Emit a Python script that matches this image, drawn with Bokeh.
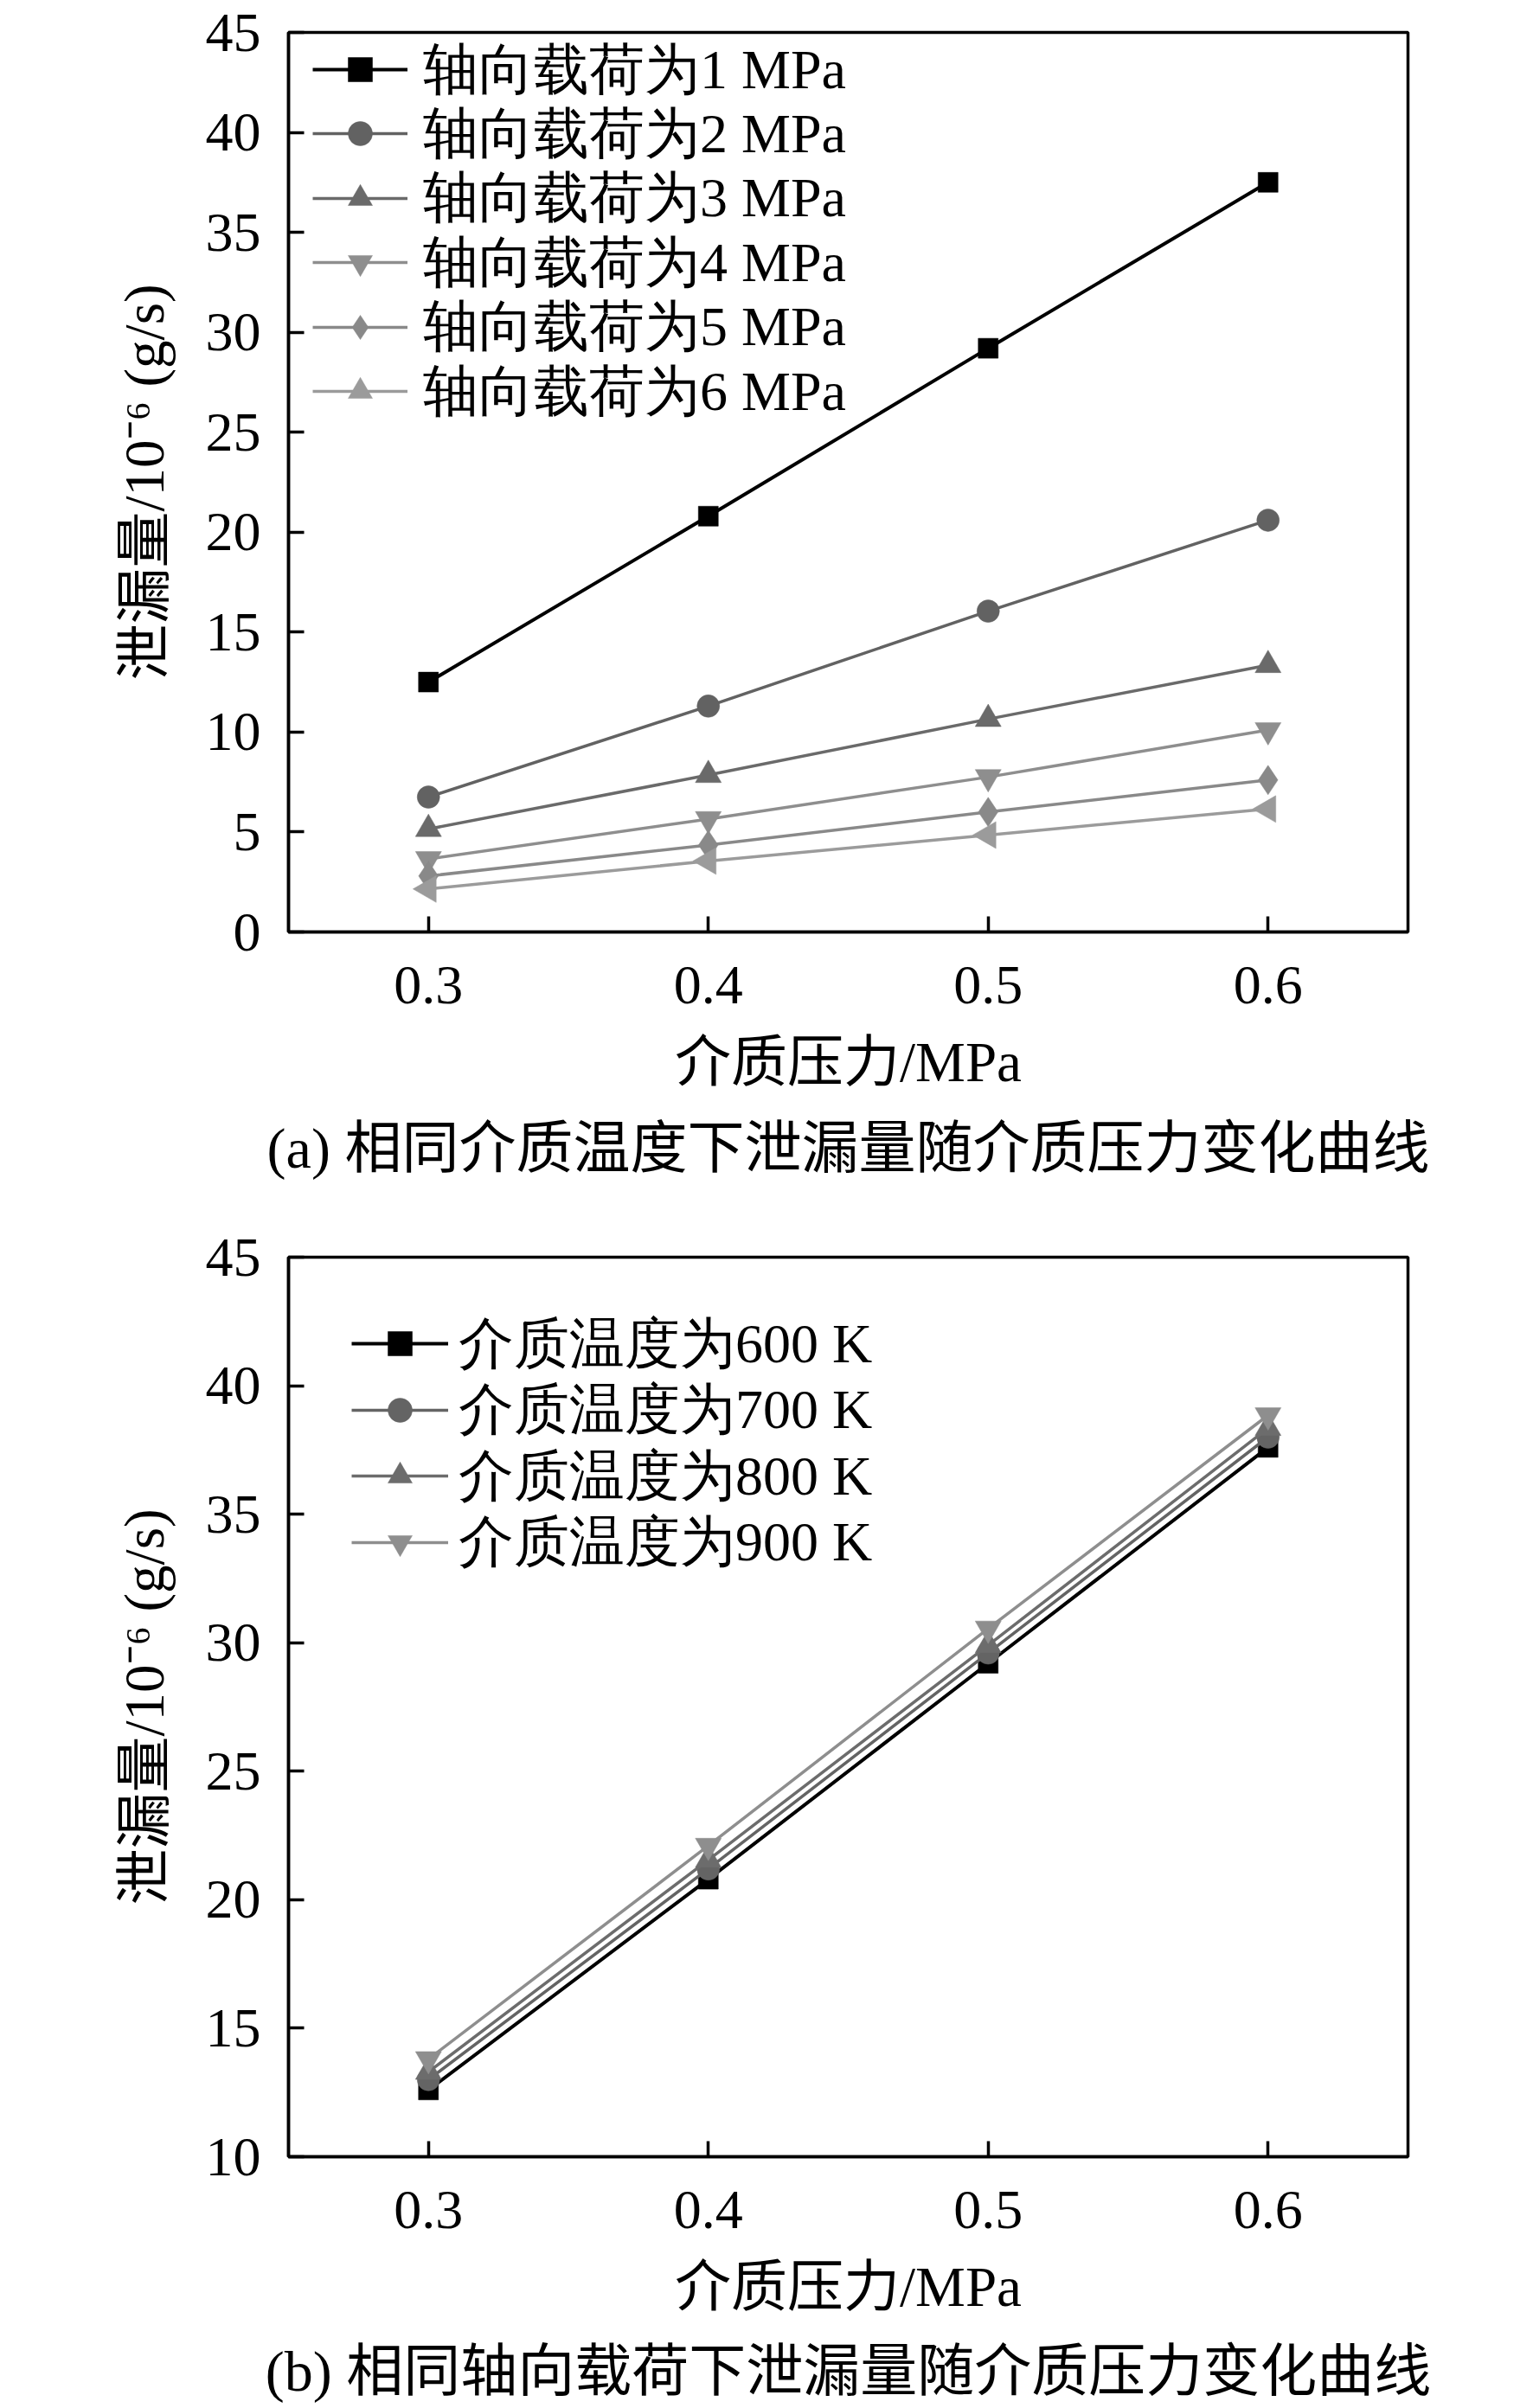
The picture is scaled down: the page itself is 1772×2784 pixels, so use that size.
import math
from bokeh.plotting import figure
from bokeh.models import Range1d, FixedTicker, Legend, LegendItem, Title
from bokeh.layouts import column
from bokeh.embed import file_html
from bokeh.resources import INLINE

# ---------------- data ----------------
pressure = [0.3, 0.4, 0.5, 0.6]

load_labels = ["轴向载荷为1 MPa", "轴向载荷为2 MPa", "轴向载荷为3 MPa",
               "轴向载荷为4 MPa", "轴向载荷为5 MPa", "轴向载荷为6 MPa"]
load_1 = [12.5, 20.8, 29.2, 37.5]
load_2 = [6.75, 11.3, 16.05, 20.6]
load_3 = [5.15, 7.85, 10.65, 13.35]
load_4 = [3.65, 5.65, 7.75, 10.1]
load_5 = [2.8, 4.35, 6.0, 7.6]
load_6 = [2.15, 3.55, 4.85, 6.15]

temp_labels = ["介质温度为600 K", "介质温度为700 K", "介质温度为800 K", "介质温度为900 K"]
temp_600 = [12.6, 20.8, 29.2, 37.6]
temp_700 = [13.0, 21.2, 29.6, 38.0]
temp_800 = [13.3, 21.55, 29.9, 38.35]
temp_900 = [13.8, 22.1, 30.55, 38.85]

x_ticks = [0.3, 0.4, 0.5, 0.6]
y_ticks_a = [0, 5, 10, 15, 20, 25, 30, 35, 40, 45]
y_ticks_b = [10, 15, 20, 25, 30, 35, 40, 45]

x_title = "介质压力/MPa"
y_title = "泄漏量/10⁻⁶ (g/s)"
caption_a = "(a) 相同介质温度下泄漏量随介质压力变化曲线"
caption_b = "(b) 相同轴向载荷下泄漏量随介质压力变化曲线"

FONT = "Liberation Serif, Noto Sans CJK SC"
SERIF = "Liberation Serif"


def make_fig(y_start, y_end, y_ticks, border_top, frame_h, border_bottom, caption, cap_standoff):
    p = figure(output_backend="svg", toolbar_location=None,
               frame_width=1294, frame_height=frame_h,
               min_border_left=333, min_border_right=145,
               min_border_top=border_top, min_border_bottom=border_bottom,
               x_range=Range1d(0.25, 0.65), y_range=Range1d(y_start, y_end))
    p.background_fill_color = "white"
    p.border_fill_color = "white"
    p.grid.visible = False
    p.outline_line_color = "black"
    p.outline_line_width = 3.5
    p.outline_line_alpha = 1.0
    for ax in (p.xaxis[0], p.yaxis[0]):
        ax.axis_line_width = 3.5
        ax.axis_line_color = "black"
        ax.major_tick_line_width = 3.5
        ax.major_tick_line_color = "black"
        ax.major_tick_in = 18
        ax.major_tick_out = 0
        ax.minor_tick_line_color = None
        ax.major_label_text_font_size = "64px"
        ax.major_label_text_color = "black"
        ax.axis_label_text_font = FONT
        ax.axis_label_text_font_size = "65px"
        ax.axis_label_text_font_style = "normal"
        ax.axis_label_text_color = "black"
    p.xaxis.major_label_text_font = FONT
    p.yaxis.major_label_text_font = SERIF
    p.xaxis.ticker = FixedTicker(ticks=x_ticks)
    p.yaxis.ticker = FixedTicker(ticks=y_ticks)
    p.xaxis.major_label_standoff = 40
    p.yaxis.major_label_standoff = 32
    p.xaxis.axis_label = x_title
    p.yaxis.axis_label = y_title
    p.xaxis.axis_label_standoff = 29
    p.yaxis.axis_label_standoff = 32
    t = Title(text=caption, align="center", text_font=FONT,
              text_font_size="66px", text_font_style="normal",
              text_color="black", standoff=cap_standoff)
    p.add_layout(t, "below")
    return p


def add_row_legends(p, items, x_off, first_bottom, step, glyph_w, standoff):
    # one single-entry legend per row, so the row pitch matches the original
    for i, it in enumerate(items):
        leg = Legend(items=[it], location=(x_off, first_bottom - i * step),
                     label_text_font=SERIF, label_text_font_size="64px",
                     label_text_color="black",
                     glyph_width=glyph_w, glyph_height=70, label_height=90,
                     label_standoff=standoff, spacing=0, padding=0, margin=0,
                     border_line_alpha=0, background_fill_alpha=0)
        p.add_layout(leg, "center")


# ---------------- panel (a) ----------------
p1 = make_fig(0, 45, y_ticks_a, 37, 1040, 320, caption_a, 44)

series_a = [load_1, load_2, load_3, load_4, load_5, load_6]
colors_a = ["#000000", "#626262", "#6a6a6a", "#8e8e8e", "#898989", "#9b9b9b"]
markers_a = ["square", "circle", "triangle", "inverted_triangle", "diamond", "triangle"]
sizes_a = [23, 26, 30, 30, 34, 31]
angles_a = [0, 0, 0, 0, 0, math.pi / 2]
widths_a = [4, 3.5, 3.5, 3.5, 3.5, 3.5]

items_a = []
for vals, col, mk, sz, ang, lw, lab in zip(series_a, colors_a, markers_a, sizes_a,
                                           angles_a, widths_a, load_labels):
    r1 = p1.line(pressure, vals, line_color=col, line_width=lw)
    r2 = p1.scatter(pressure, vals, marker=mk, size=sz, angle=ang,
                    fill_color=col, line_color=col, line_width=0.5)
    items_a.append(LegendItem(label=lab, renderers=[r1, r2]))

add_row_legends(p1, items_a, 28, 952, 74.4, 110, 18)

# ---------------- panel (b) ----------------
p2 = make_fig(10, 45, y_ticks_b, 56, 1040, 290, caption_b, 40)

series_b = [temp_600, temp_700, temp_800, temp_900]
colors_b = ["#000000", "#646464", "#6c6c6c", "#8e8e8e"]
markers_b = ["square", "circle", "triangle", "inverted_triangle"]
sizes_b = [23, 26, 30, 30]
widths_b = [4, 3.5, 3.5, 3.5]

items_b = []
for vals, col, mk, sz, lw, lab in zip(series_b, colors_b, markers_b, sizes_b, widths_b, temp_labels):
    r1 = p2.line(pressure, vals, line_color=col, line_width=lw)
    r2 = p2.scatter(pressure, vals, marker=mk, size=sz,
                    fill_color=col, line_color=col, line_width=0.5)
    items_b.append(LegendItem(label=lab, renderers=[r1, r2]))

add_row_legends(p2, items_b, 73, 895, 76.5, 112, 12)

layout = column(p1, p2, spacing=0)
open("out.html", "w").write(file_html(layout, INLINE))
